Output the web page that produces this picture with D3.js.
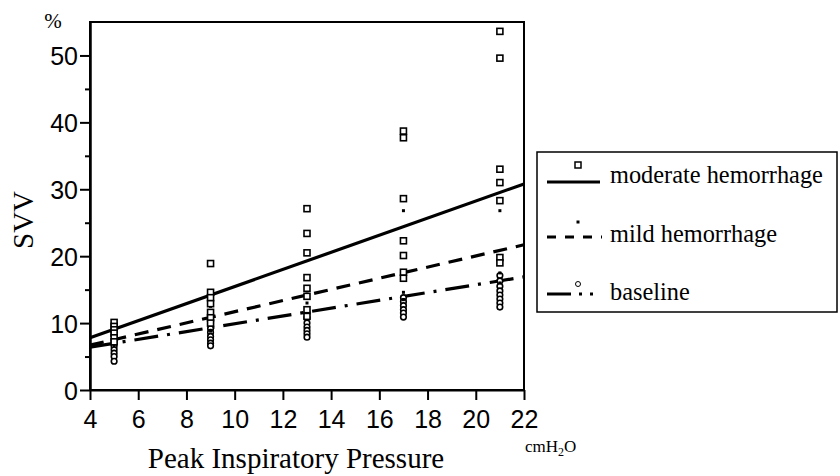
<!DOCTYPE html>
<meta charset="utf-8">
<script src="https://d3js.org/d3.v7.min.js"></script>
<style>
  body { margin: 0; background: #fff; }
  svg text { fill: #000; }
  .serif { font-family: "Liberation Serif", "Times New Roman", serif; }
  .sans { font-family: "Liberation Sans", Arial, sans-serif; }
</style>
<div id="chart"></div>
<script>
// Data
var pressures = [5, 9, 13, 17, 21];
var xTicks = [4, 6, 8, 10, 12, 14, 16, 18, 20, 22];
var yTicks = [0, 10, 20, 30, 40, 50];

var moderate = [
  [10.1, 9.5, 9.0, 8.5, 7.8, 7.2],
  [18.9, 14.6, 13.8, 12.9, 11.6, 10.8, 10.0],
  [27.1, 23.4, 20.5, 16.8, 15.2, 14.0, 12.0, 11.0],
  [38.7, 37.7, 28.6, 22.3, 20.1, 17.6, 16.7],
  [53.6, 49.6, 33.0, 31.0, 28.3, 19.8, 19.0]
];
var mild = [
  [9.0, 8.0, 7.2, 6.6],
  [14.3, 12.5, 11.0, 9.8, 8.8],
  [14.8, 14.0, 13.0, 12.0, 11.0],
  [26.8, 17.0, 14.6, 13.5],
  [26.8, 19.5, 17.5, 16.0]
];
var baseline = [
  [7.0, 6.5, 6.0, 5.5, 5.0, 4.3],
  [10.0, 9.2, 8.6, 8.0, 7.5, 7.0, 6.6],
  [11.5, 10.8, 10.0, 9.4, 8.9, 8.4, 7.9],
  [13.8, 13.2, 12.6, 12.0, 11.5, 10.9],
  [17.1, 16.3, 15.5, 14.8, 14.2, 13.6, 13.0, 12.4]
];

// regression lines: value at x=4 and at x=22
var fitX = [4, 22];
var fitModerate = [7.8, 30.8];
var fitMild = [6.7, 21.7];
var fitBaseline = [6.4, 16.9];

var seriesNames = ["moderate hemorrhage", "mild hemorrhage", "baseline"];

// Set graph dims
var W = 840, H = 476;
var margin = {left: 90, right: 524, top: 22, bottom: 390};

var svg = d3.select("#chart").append("svg")
    .attr("width", W)
    .attr("height", H);

var x = d3.scaleLinear().domain([4, 22]).range([margin.left, margin.right]);
var y = d3.scaleLinear().domain([0, 55]).range([margin.bottom, margin.top]);

// frame
svg.append("rect")
  .attr("x", margin.left).attr("y", margin.top)
  .attr("width", margin.right - margin.left).attr("height", margin.bottom - margin.top)
  .attr("fill", "none").attr("stroke", "#000").attr("stroke-width", 2);

// X axis
var xAxis = svg.append("g")
  .attr("transform", "translate(0," + margin.bottom + ")")
  .call(d3.axisBottom(x).tickValues(xTicks).tickSize(10).tickSizeOuter(0));
xAxis.attr("font-family", null);
xAxis.selectAll("text")
  .attr("dy", "1.0em")
  .attr("class", "sans")
  .style("font-size", "25px");

// Y axis, major + minor ticks
var yAxis = svg.append("g")
  .attr("transform", "translate(" + margin.left + ",0)")
  .call(d3.axisLeft(y).tickValues(yTicks).tickSize(10).tickSizeOuter(0));
yAxis.attr("font-family", null);
yAxis.selectAll("text")
  .attr("dy", "0.36em")
  .attr("x", -12)
  .attr("class", "sans")
  .style("font-size", "25px");
svg.append("g")
  .attr("transform", "translate(" + margin.left + ",0)")
  .call(d3.axisLeft(y).tickValues([5, 15, 25, 35, 45]).tickSize(5).tickFormat("").tickSizeOuter(0));

svg.selectAll(".domain").attr("stroke-width", 2);
svg.selectAll(".tick line").attr("stroke-width", 2);

// regression lines
var lineGen = d3.line()
  .x(function(d) { return x(d[0]); })
  .y(function(d) { return y(d[1]); });

function fitLine(vals, dash) {
  svg.append("path")
    .datum(fitX.map(function(v, i) { return [v, vals[i]]; }))
    .attr("d", lineGen)
    .attr("fill", "none")
    .attr("stroke", "#000")
    .attr("stroke-width", 3.2)
    .attr("stroke-dasharray", dash);
}
fitLine(fitModerate, null);
fitLine(fitMild, "14,9");
fitLine(fitBaseline, "24,9,3,9");

// flatten groups into points
function flat(groups) {
  var out = [];
  groups.forEach(function(g, i) {
    g.forEach(function(v) { out.push({x: pressures[i], v: v}); });
  });
  return out;
}

// baseline circles
svg.selectAll(".base")
  .data(flat(baseline))
  .enter().append("circle")
    .attr("cx", function(d) { return x(d.x); })
    .attr("cy", function(d) { return y(d.v); })
    .attr("r", 2.8)
    .attr("fill", "#fff")
    .attr("stroke", "#000")
    .attr("stroke-width", 1.6);

// mild dots
svg.selectAll(".mild")
  .data(flat(mild))
  .enter().append("rect")
    .attr("x", function(d) { return x(d.x) - 1.5; })
    .attr("y", function(d) { return y(d.v) - 1.5; })
    .attr("width", 3).attr("height", 3)
    .attr("fill", "#000");

// moderate squares
svg.selectAll(".mod")
  .data(flat(moderate))
  .enter().append("rect")
    .attr("x", function(d) { return x(d.x) - 3; })
    .attr("y", function(d) { return y(d.v) - 3; })
    .attr("width", 6).attr("height", 6)
    .attr("fill", "#fff")
    .attr("stroke", "#000")
    .attr("stroke-width", 1.6);

// axis titles
svg.append("text")
  .attr("class", "serif")
  .attr("transform", "translate(33,220) rotate(-90)")
  .attr("text-anchor", "middle")
  .style("font-size", "29px")
  .text("SVV");
svg.append("text")
  .attr("class", "serif")
  .attr("x", 53).attr("y", 28)
  .attr("text-anchor", "middle")
  .style("font-size", "21px")
  .text("%");
svg.append("text")
  .attr("class", "serif")
  .attr("x", 296).attr("y", 468)
  .attr("text-anchor", "middle")
  .style("font-size", "29px")
  .text("Peak Inspiratory Pressure");
var unit = svg.append("text")
  .attr("class", "serif")
  .attr("x", 525).attr("y", 452)
  .style("font-size", "17px");
unit.append("tspan").text("cmH");
unit.append("tspan").attr("dy", 4).style("font-size", "12px").text("2");
unit.append("tspan").attr("dy", -4).text("O");

// legend
var lg = svg.append("g");
lg.append("rect")
  .attr("x", 537).attr("y", 152)
  .attr("width", 300).attr("height", 160)
  .attr("fill", "#fff").attr("stroke", "#000").attr("stroke-width", 1.5);

var rowY = [174, 233, 291];
var labels = lg.selectAll(".lab")
  .data(seriesNames)
  .enter().append("text")
    .attr("class", "serif")
    .attr("x", 610)
    .attr("y", function(d, i) { return rowY[i]; })
    .attr("dy", "0.35em")
    .style("font-size", "24px")
    .text(function(d) { return d; });
// first label should run to about x=823 like the figure
var w0 = labels.node().getComputedTextLength();
if (w0 > 0) labels.style("font-size", (24 * 213 / w0) + "px");

// moderate sample
lg.append("line").attr("x1", 547).attr("x2", 600).attr("y1", 182).attr("y2", 182)
  .attr("stroke", "#000").attr("stroke-width", 3);
lg.append("rect").attr("x", 575).attr("y", 162).attr("width", 6).attr("height", 6)
  .attr("fill", "#fff").attr("stroke", "#000").attr("stroke-width", 1.5);
// mild sample
lg.append("line").attr("x1", 547).attr("x2", 602).attr("y1", 237).attr("y2", 237)
  .attr("stroke", "#000").attr("stroke-width", 3).attr("stroke-dasharray", "9,9");
lg.append("rect").attr("x", 576.5).attr("y", 220.5).attr("width", 3).attr("height", 3)
  .attr("fill", "#000");
// baseline sample
lg.append("line").attr("x1", 547).attr("x2", 602).attr("y1", 294).attr("y2", 294)
  .attr("stroke", "#000").attr("stroke-width", 3).attr("stroke-dasharray", "24,8,3,8,3,20");
lg.append("circle").attr("cx", 578).attr("cy", 284).attr("r", 2.5)
  .attr("fill", "#fff").attr("stroke", "#000").attr("stroke-width", 1);
</script>
